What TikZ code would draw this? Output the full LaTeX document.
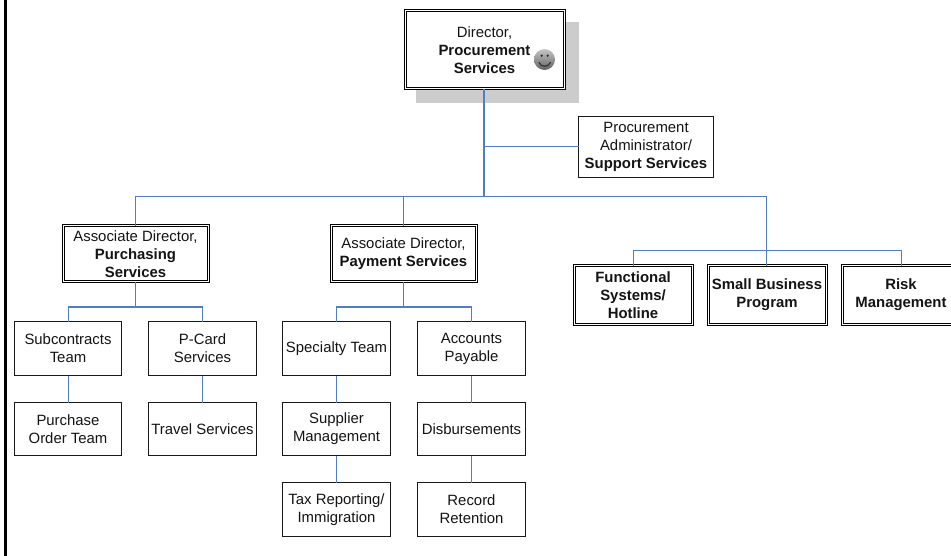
\documentclass[tikz,border=0pt]{standalone}
\usepackage{fontspec}
\setmainfont{Liberation Sans}
\definecolor{linkblue}{RGB}{80,125,195}
\tikzset{
  x=1pt,y=-1pt,
  txt/.style={align=center,font=\fontsize{14.9}{18}\selectfont,text=black!92,inner sep=0pt},
  plainbox/.style={draw=black!90,line width=.9pt,fill=white},
  dblbox/.style={draw=black,line width=3pt,fill=white,postaction={draw=white,line width=1pt}},
  link/.style={draw=linkblue,line width=1pt},
  trunk/.style={draw=linkblue,line width=1.6pt},
}
\newcommand{\bx}[7]{% style, name, x0,y0,x1,y1, text
  \node[#1,outer sep=0pt,minimum width={#5-#3},minimum height={#6-#4},inner sep=0pt,anchor=north west] (#2) at (#3,#4) {};
  \node[txt] at (#2.center) {#7};
}
\begin{document}
\begin{tikzpicture}
\useasboundingbox (0,0) rectangle (951,556);
\fill[white] (0,0) rectangle (951,556);
\fill[black] (4,0) rectangle (7,556);
\fill[black!20] (416,22) rectangle (579,103);
\coordinate (bl) at (135,197);
\coordinate (br) at (766,197);
\coordinate (adm) at (484,147);
\coordinate (tr) at (484,197);
% boxes
\bx{dblbox}{dir}{405}{11}{564}{89}{Director,\\\textbf{Procurement}\\\textbf{Services}}
\bx{plainbox}{admin}{578.5}{116.5}{713.5}{177.5}{Procurement\\Administrator/\\\textbf{Support Services}}
\bx{dblbox}{apur}{63}{226}{208}{282}{Associate Director,\\\textbf{Purchasing}\\\textbf{Services}}
\bx{dblbox}{apay}{331}{226}{476}{282}{Associate Director,\\\textbf{Payment Services}}
\bx{dblbox}{func}{574}{266}{692}{324}{\textbf{Functional}\\\textbf{Systems/}\\\textbf{Hotline}}
\bx{dblbox}{small}{708}{266}{826}{324}{\textbf{Small Business}\\\textbf{Program}}
\bx{dblbox}{risk}{842}{266}{960}{324}{\textbf{Risk}\\\textbf{Management}}
\bx{plainbox}{sub}{14.5}{321.5}{121.5}{375.5}{Subcontracts\\Team}
\bx{plainbox}{pc}{148.5}{321.5}{256.5}{375.5}{P-Card\\Services}
\bx{plainbox}{po}{14.5}{402.5}{121.5}{455.5}{Purchase\\Order Team}
\bx{plainbox}{ts}{148.5}{402.5}{256.5}{455.5}{Travel Services}
\bx{plainbox}{spec}{282.5}{321.5}{390.5}{375.5}{Specialty Team}
\bx{plainbox}{ap}{417.5}{321.5}{525.5}{375.5}{Accounts\\Payable}
\bx{plainbox}{sup}{282.5}{402.5}{390.5}{455.5}{Supplier\\Management}
\bx{plainbox}{dis}{417.5}{402.5}{525.5}{455.5}{Disbursements}
\bx{plainbox}{tax}{282.5}{482.5}{390.5}{536.5}{Tax Reporting/\\Immigration}
\bx{plainbox}{rec}{417.5}{482.5}{525.5}{536.5}{Record\\Retention}
% connectors
\draw[link] (apur.north) |- (br) -- (small.north -| br);
\draw[trunk] (dir.south -| tr) -- (tr);
\draw[link] (adm) -- (admin.west |- adm);
\draw[link] (apay.north) -- (apay.north |- bl);
\draw[link] (func.north) |- (risk.north |- 0,251) -- (risk.north);
\draw[link] (apur.south) -- (apur.south |- 0,307);
\draw[link] (sub.north) |- (pc.north |- 0,307) -- (pc.north);
\draw[link] (apay.south) -- (apay.south |- 0,307);
\draw[link] (spec.north) |- (ap.north |- 0,307) -- (ap.north);
\draw[link] (sub.south) -- (po.north);
\draw[link] (pc.south) -- (ts.north);
\draw[link] (spec.south) -- (sup.north);
\draw[link] (sup.south) -- (tax.north);
\draw[link] (ap.south) -- (dis.north);
\draw[link] (dis.south) -- (rec.north);
% smiley
\shade[top color=black!22,bottom color=black!62] (544.5,59.5) circle (10.5);
\draw[black!80,line width=1.2pt,line cap=round] (539,62.5) .. controls (541,67.5) and (548,67.5) .. (550.5,62.5);
\fill[black!80] (541.7,55.7) circle (1.3) (547.7,55.7) circle (1.3);
\end{tikzpicture}
\end{document}
